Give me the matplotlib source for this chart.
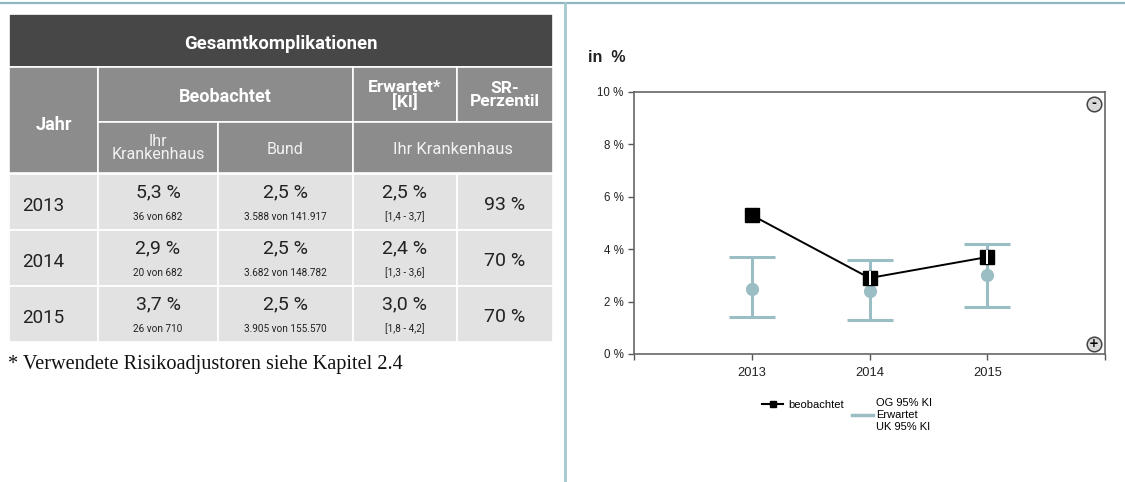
import matplotlib
matplotlib.use("Agg")
import matplotlib.pyplot as plt
from matplotlib.patches import Rectangle
from matplotlib.lines import Line2D

# table contents
title = "Gesamtkomplikationen"
jahre = ["2013", "2014", "2015"]
beob_kh = ["5,3 %", "2,9 %", "3,7 %"]
beob_kh_n = ["36 von 682", "20 von 682", "26 von 710"]
bund = ["2,5 %", "2,5 %", "2,5 %"]
bund_n = ["3.588 von 141.917", "3.682 von 148.782", "3.905 von 155.570"]
erwartet_txt = ["2,5 %", "2,4 %", "3,0 %"]
erwartet_ki = ["[1,4 - 3,7]", "[1,3 - 3,6]", "[1,8 - 4,2]"]
perzentil = ["93 %", "70 %", "70 %"]
footnote = "* Verwendete Risikoadjustoren siehe Kapitel 2.4"

# chart values (in %)
years = [2013, 2014, 2015]
beobachtet = [5.3, 2.9, 3.7]
erwartet = [2.5, 2.4, 3.0]
og_ki = [3.7, 3.6, 4.2]
uk_ki = [1.4, 1.3, 1.8]
y_ticks = [0, 2, 4, 6, 8, 10]

TEAL = "#9bbdc4"
HEAD_FONT = ["Roboto", "DejaVu Sans"]
BODY_FONT = ["Roboto", "DejaVu Sans"]
SANS = ["Liberation Sans", "DejaVu Sans"]

fig = plt.figure(figsize=(11.25, 4.82), dpi=100)
bg = fig.add_axes([0, 0, 1, 1])
bg.set_xlim(0, 1125)
bg.set_ylim(482, 0)
bg.axis("off")

# page decoration lines
bg.plot([0, 1125], [3, 3], color="#8fb6be", lw=1.6)
bg.plot([565, 565], [3, 482], color="#a5c8d0", lw=2.0)


def cell(x0, x1, y0, y1, color):
    bg.add_patch(Rectangle((x0, y0), x1 - x0, y1 - y0, facecolor=color,
                           edgecolor="white", lw=1.2))


cx = [9, 98, 218, 353, 457, 553]
DARK, MID, LIGHT = "#474747", "#8c8c8c", "#e2e2e2"

cell(cx[0], cx[5], 14, 67, DARK)
bg.text((cx[0] + cx[5]) / 2, 44, title, color="white", fontsize=13.3,
        fontweight="bold", ha="center", va="center", family=HEAD_FONT)

cell(cx[0], cx[1], 67, 173, MID)
bg.text((cx[0] + cx[1]) / 2, 125, "Jahr", color="white", fontsize=13,
        fontweight="bold", ha="center", va="center", family=HEAD_FONT)
cell(cx[1], cx[3], 67, 122, MID)
bg.text((cx[1] + cx[3]) / 2, 97, "Beobachtet", color="white", fontsize=13,
        fontweight="bold", ha="center", va="center", family=HEAD_FONT)
cell(cx[3], cx[4], 67, 122, MID)
bg.text((cx[3] + cx[4]) / 2, 95, "Erwartet*\n[KI]", color="white", fontsize=12.5,
        fontweight="bold", ha="center", va="center", linespacing=0.85,
        family=HEAD_FONT)
cell(cx[4], cx[5], 67, 122, MID)
bg.text((cx[4] + cx[5]) / 2, 95, "SR-\nPerzentil", color="white", fontsize=12.5,
        fontweight="bold", ha="center", va="center", linespacing=0.85,
        family=HEAD_FONT)

cell(cx[1], cx[2], 122, 173, MID)
bg.text((cx[1] + cx[2]) / 2, 148, "Ihr\nKrankenhaus", color="#f2f2f2",
        fontsize=11.5, ha="center", va="center", linespacing=0.9,
        family=HEAD_FONT)
cell(cx[2], cx[3], 122, 173, MID)
bg.text((cx[2] + cx[3]) / 2, 150, "Bund", color="#f2f2f2", fontsize=11.5,
        ha="center", va="center", family=HEAD_FONT)
cell(cx[3], cx[5], 122, 173, MID)
bg.text((cx[3] + cx[5]) / 2, 150, "Ihr Krankenhaus", color="#f2f2f2",
        fontsize=12, ha="center", va="center", family=HEAD_FONT)

row_h = 56
for i in range(len(jahre)):
    y0 = 174 + i * row_h
    for c in range(5):
        cell(cx[c], cx[c + 1], y0, y0 + row_h, LIGHT)
    bg.text(22, y0 + 32, jahre[i], fontsize=13.5, va="center",
            color="#222222", family=BODY_FONT)
    for c, main, sub in [(1, beob_kh, beob_kh_n), (2, bund, bund_n),
                         (3, erwartet_txt, erwartet_ki)]:
        xm = (cx[c] + cx[c + 1]) / 2
        bg.text(xm, y0 + 18, main[i], fontsize=14, ha="center", va="center",
                color="#222222", family=BODY_FONT)
        bg.text(xm, y0 + 43, sub[i], fontsize=7.2, ha="center", va="center",
                color="#222222", family=BODY_FONT)
    bg.text((cx[4] + cx[5]) / 2, y0 + 31, perzentil[i], fontsize=14,
            ha="center", va="center", color="#222222", family=BODY_FONT)

bg.text(8, 365, footnote, fontsize=14.6, va="center", color="#111111",
        family=["Liberation Serif", "DejaVu Serif"])

# chart
ax = fig.add_axes([634 / 1125, 128 / 482, 471 / 1125, 262 / 482])
ax.set_xlim(2012, 2016)
ax.set_ylim(0, 10)

err = [[e - u for e, u in zip(erwartet, uk_ki)],
       [o - e for o, e in zip(og_ki, erwartet)]]
ax.errorbar(years, erwartet, yerr=err, fmt="o", color=TEAL, ecolor=TEAL,
            markersize=8.5, elinewidth=2.2, capsize=16.5, capthick=2.2,
            zorder=2)
ax.plot(years, beobachtet, color="black", lw=1.4, marker="s",
        markersize=10, zorder=3)
inside = [(y, b) for y, b, u, o in zip(years, beobachtet, uk_ki, og_ki)
          if u <= b <= o]
ax.plot([p[0] for p in inside], [p[1] for p in inside], ls="none", marker="|",
        color="white", markersize=10, mew=1.4, zorder=4)

ax.set_yticks(y_ticks, labels=[f"{t} %" for t in y_ticks])
ax.set_xticks([2012] + years + [2016], labels=[""] + [str(y) for y in years] + [""])
ax.tick_params(colors="#555555", labelcolor="#222222", length=4, width=1)
ax.tick_params(axis="y", labelsize=8.3)
ax.tick_params(axis="x", labelsize=9.3, pad=5)
for s in ax.spines.values():
    s.set_color("#666666")
    s.set_linewidth(1.2)
for lbl in ax.get_xticklabels() + ax.get_yticklabels():
    lbl.set_family(SANS)

# zoom buttons
for yy, sign in [(0.955, "-"), (0.04, "+")]:
    ax.plot([0.976], [yy], transform=ax.transAxes, marker="o", markersize=10.5,
            mfc="#d8d8d8", mec="#444444", mew=1.1, clip_on=False, zorder=5)
    ax.text(0.976, yy, sign, transform=ax.transAxes, ha="center",
            va="center", fontsize=8.5, fontweight="bold", zorder=6)

fig.text(588 / 1125, 1 - 58 / 482, "in  %", fontsize=11.5, fontweight="bold",
         va="center", color="#222222", family=SANS)

fig.legend([Line2D([], [], color="black", lw=1.5, marker="s", markersize=4.5)],
           ["beobachtet"], loc="center left",
           bbox_to_anchor=(752 / 1125, 1 - 405 / 482), frameon=False,
           handlelength=1.9, handletextpad=0.5,
           prop={"family": SANS, "size": 8})
fig.legend([Line2D([], [], color=TEAL, lw=2.5)],
           ["OG 95% KI\nErwartet\nUK 95% KI"], loc="center left",
           bbox_to_anchor=(842 / 1125, 1 - 415 / 482), frameon=False,
           handlelength=1.9, handletextpad=0.3,
           prop={"family": SANS, "size": 8})

fig.savefig("out.png", dpi=100)
